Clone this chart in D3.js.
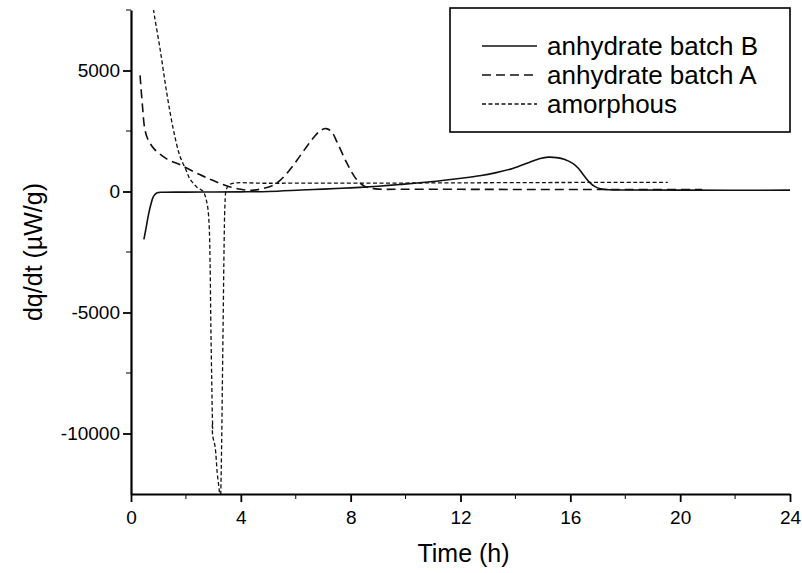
<!DOCTYPE html>
<html>
<head>
<meta charset="utf-8">
<script src="https://cdn.jsdelivr.net/npm/d3@7"></script>
<style>
  body { margin: 0; background: #fff; }
  svg { font-family: "Liberation Sans", Arial, sans-serif; }
</style>
</head>
<body>
<div id="chart"></div>
<script>
// [time (h), dq/dt (µW/g)]
const batchB = [
  [0.47, -1980], [0.55, -1500], [0.63, -1000], [0.72, -550], [0.82, -200], [0.95, -50],
  [1.2, -30], [2, -25], [3, -20], [4, -15], [5, 0], [6.2, 60], [7, 100], [8, 150],
  [9, 220], [9.8, 290], [10.9, 400], [12.1, 560], [12.7, 650], [13.3, 780], [13.9, 950],
  [14.5, 1200], [14.9, 1360], [15.2, 1420], [15.5, 1400], [15.8, 1320], [16.1, 1150],
  [16.3, 950], [16.5, 650], [16.7, 380], [16.9, 200], [17.1, 110], [17.4, 75],
  [18, 60], [20, 55], [24, 55]
];
const batchA = [
  [0.33, 4800], [0.42, 3500], [0.5, 2600], [0.6, 2200], [0.85, 1750], [1.3, 1350],
  [1.8, 1100], [2.5, 700], [3.0, 450], [3.5, 230], [4.0, 90], [4.4, 50], [4.8, 120],
  [5.2, 270], [5.45, 480], [5.75, 850], [6.05, 1300], [6.35, 1780], [6.65, 2230],
  [6.9, 2520], [7.1, 2600], [7.3, 2480], [7.5, 2050], [7.85, 1200], [8.2, 520],
  [8.5, 220], [8.9, 110], [10, 95], [12, 90], [14, 85], [16, 80], [18, 80], [20.8, 80]
];
const amorphous = [
  [0.79, 7800], [0.82, 7500], [1.06, 5880], [1.3, 4090], [1.54, 2575], [1.78, 1470],
  [2.0, 900], [2.15, 510], [2.4, 180], [2.63, 0], [2.72, -250], [2.8, -700],
  [2.85, -1500], [2.88, -2940], [2.91, -5690], [2.94, -7760], [2.96, -9150],
  [2.975, -9800], [2.962, -9600], [2.975, -10100], [3.06, -10520], [3.14, -11620],
  [3.22, -12440], [3.245, -13200], [3.27, -12440], [3.30, -10520], [3.33, -7760],
  [3.36, -5000], [3.39, -2250], [3.42, -600], [3.46, 25], [3.54, 230], [3.67, 330],
  [5, 340], [10, 350], [15, 370], [19.55, 380]
];

const xTicks = [0, 4, 8, 12, 16, 20, 24];
const xMinor = [2, 6, 10, 14, 18, 22];
const yTicks = [-10000, -5000, 0, 5000];
const yMinor = [-7500, -2500, 2500, 7500];

const seriesNames = ["anhydrate batch B", "anhydrate batch A", "amorphous"];
const seriesDash = [null, "9,5", "4,2.5"];

const W = 802, H = 573;
const plot = { left: 131, right: 790, top: 10, bottom: 494 };

const svg = d3.select("#chart").append("svg")
  .attr("width", W)
  .attr("height", H);

const x = d3.scaleLinear().domain([0, 24]).range([plot.left, plot.right]);
const y = d3.scaleLinear().domain([-12500, 7500]).range([plot.bottom, plot.top]);

// clip for the curves
svg.append("clipPath").attr("id", "clip")
  .append("rect")
  .attr("x", plot.left)
  .attr("y", plot.top)
  .attr("width", plot.right - plot.left)
  .attr("height", plot.bottom - plot.top);

const line = d3.line()
  .x(d => x(d[0]))
  .y(d => y(d[1]))
  .curve(d3.curveCatmullRom.alpha(0.5));

const data = [batchB, batchA, amorphous];
svg.append("g").attr("clip-path", "url(#clip)")
  .selectAll("path")
  .data(data)
  .join("path")
  .attr("fill", "none")
  .attr("stroke", "#111")
  .attr("stroke-width", (d, i) => i === 2 ? 1.3 : 1.6)
  .attr("stroke-dasharray", (d, i) => seriesDash[i])
  .attr("d", line);

// axes
const xAxis = svg.append("g")
  .attr("transform", `translate(0,${plot.bottom})`)
  .call(d3.axisBottom(x).tickValues(xTicks).tickSize(8).tickPadding(9).tickSizeOuter(0));
xAxis.append("g")
  .selectAll("line")
  .data(xMinor)
  .join("line")
  .attr("x1", d => x(d)).attr("x2", d => x(d))
  .attr("y1", 0).attr("y2", 5)
  .attr("stroke", "#000");

const yAxis = svg.append("g")
  .attr("transform", `translate(${plot.left},0)`)
  .call(d3.axisLeft(y).tickValues(yTicks).tickSize(8).tickPadding(3).tickSizeOuter(0)
    .tickFormat(d => String(d)));
yAxis.append("g")
  .selectAll("line")
  .data(yMinor)
  .join("line")
  .attr("y1", d => y(d)).attr("y2", d => y(d))
  .attr("x1", 0).attr("x2", -5)
  .attr("stroke", "#000");

svg.selectAll(".domain").attr("stroke", "#000").attr("stroke-width", 2.2);
svg.selectAll(".tick line").attr("stroke", "#000").attr("stroke-width", 1.8);
svg.selectAll(".tick text").attr("font-size", 19).attr("fill", "#000")
  .attr("font-family", "'Liberation Sans', Arial, sans-serif");

// axis titles
svg.append("text")
  .attr("x", (plot.left + plot.right) / 2 + 3)
  .attr("y", 562)
  .attr("text-anchor", "middle")
  .attr("font-size", 25)
  .text("Time (h)");

svg.append("text")
  .attr("transform", `translate(42,${(plot.top + plot.bottom) / 2}) rotate(-90)`)
  .attr("text-anchor", "middle")
  .attr("font-size", 25)
  .text("dq/dt (\u00b5W/g)");

// legend
const legend = svg.append("g");
legend.append("rect")
  .attr("x", 450).attr("y", 8)
  .attr("width", 340).attr("height", 124)
  .attr("fill", "#fff")
  .attr("stroke", "#000")
  .attr("stroke-width", 1.6);

const items = legend.selectAll(".item")
  .data(seriesNames)
  .join("g")
  .attr("class", "item")
  .attr("transform", (d, i) => `translate(0,${46 + i * 29})`);
items.append("line")
  .attr("x1", 482).attr("x2", 537)
  .attr("stroke", "#111")
  .attr("stroke-width", (d, i) => i === 2 ? 1.3 : 1.6)
  .attr("stroke-dasharray", (d, i) => seriesDash[i]);
items.append("text")
  .attr("x", 547)
  .attr("dy", "0.35em")
  .attr("font-size", 26)
  .text(d => d);
</script>
</body>
</html>
